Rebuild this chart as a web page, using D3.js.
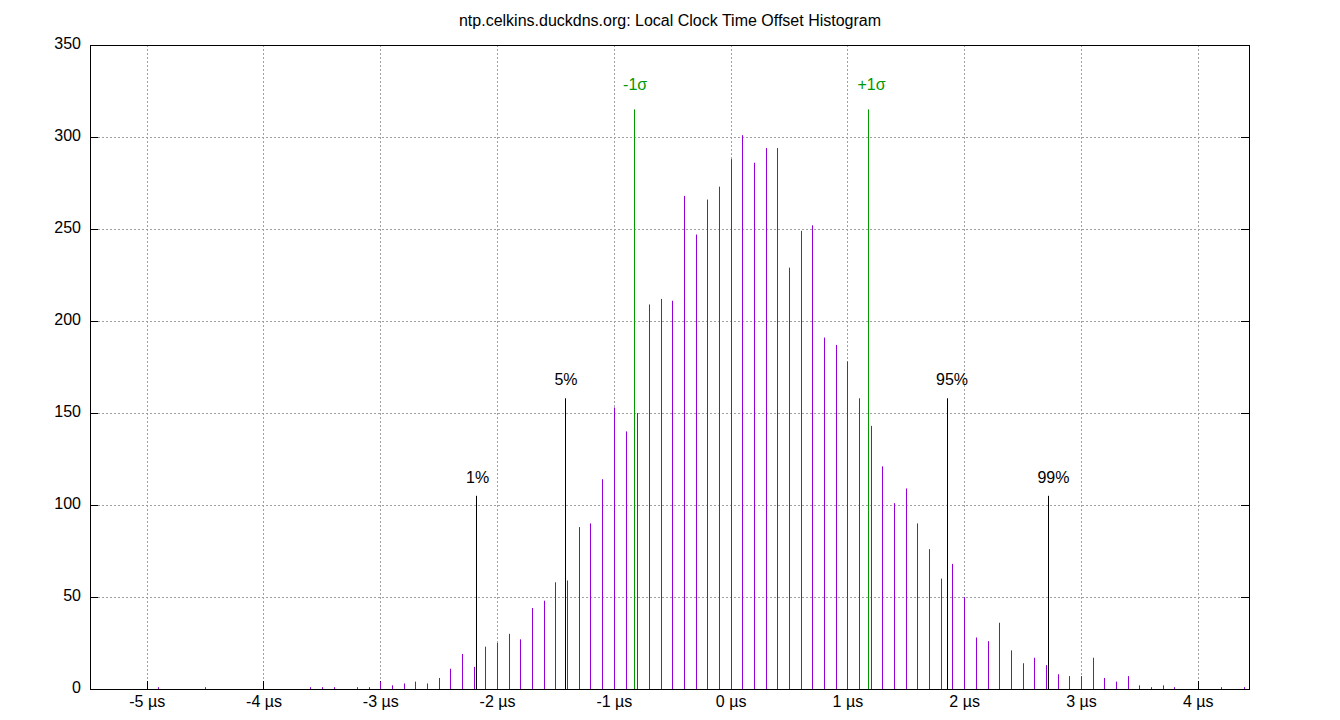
<!DOCTYPE html>
<html>
<head>
<meta charset="utf-8">
<script src="https://cdn.jsdelivr.net/npm/d3@7"></script>
<style>
  body { margin: 0; background: #fff; }
  text { font-family: "Liberation Sans", Arial, sans-serif; font-size: 16px; fill: #000; }
</style>
</head>
<body>
<div id="chart-area"></div>
<script>
// histogram bins (offset in µs) and counts
var binOffsets = [-4.9, -4.5, -3.6, -3.5, -3.4, -3.2, -3.1, -3.0, -2.9, -2.8, -2.7, -2.6, -2.5, -2.4, -2.3, -2.2,
  -2.1, -2.0, -1.9, -1.8, -1.7, -1.6, -1.5, -1.4, -1.3, -1.2, -1.1, -1.0, -0.9, -0.8, -0.7, -0.6, -0.5, -0.4,
  -0.3, -0.2, -0.1, 0.0, 0.1, 0.2, 0.3, 0.4, 0.5, 0.6, 0.7, 0.8, 0.9, 1.0, 1.1, 1.2, 1.3, 1.4, 1.5, 1.6, 1.7,
  1.8, 1.9, 2.0, 2.1, 2.2, 2.3, 2.4, 2.5, 2.6, 2.7, 2.8, 2.9, 3.0, 3.1, 3.2, 3.3, 3.4, 3.5, 3.6, 3.7, 3.8, 4.2, 4.4];
var binCounts = [1, 1, 1, 1, 1, 1, 1, 4, 2, 3, 4, 3, 6, 11, 19, 12,
  23, 25, 30, 27, 44, 48, 58, 59, 88, 90, 114, 153, 140, 150, 209, 212, 211, 268,
  247, 266, 273, 288, 301, 286, 294, 294, 229, 249, 252, 191, 187, 178, 158, 143, 121, 101, 109, 90, 76,
  60, 68, 50, 28, 26, 36, 21, 14, 17, 13, 8, 7, 7, 17, 6, 4, 7, 2, 1, 2, 1, 1, 1];

// percentile markers
var pctLabels = ["1%", "5%", "95%", "99%"];
var pctOffsets = [-2.176, -1.419, 1.849, 2.717];
var pctHeights = [105, 158, 158, 105];

// standard deviation markers
var sigmaLabels = ["-1σ", "+1σ"];
var sigmaOffsets = [-0.831, 1.176];
var sigmaHeight = 315;

var xTicks = [-5, -4, -3, -2, -1, 0, 1, 2, 3, 4];
var yTicks = [0, 50, 100, 150, 200, 250, 300, 350];

var title = "ntp.celkins.duckdns.org: Local Clock Time Offset Histogram";

var width = 1340, height = 720;
var plotLeft = 90, plotRight = 1249, plotTop = 45, plotBottom = 689;

var svg = d3.select('#chart-area')
  .append('svg')
  .attr('width', width)
  .attr('height', height);

var x = d3.scaleLinear().domain([-5.49, 4.435]).range([plotLeft, plotRight]);
var y = d3.scaleLinear().domain([0, 350]).range([plotBottom, plotTop]);

var px = (v) => Math.floor(x(v)) + 0.5;
var py = (v) => Math.round(y(v)) + 0.5;

// grid
svg.append('g').selectAll('line').data(xTicks).enter()
  .append('line')
  .attr('x1', (d) => px(d)).attr('x2', (d) => px(d))
  .attr('y1', plotTop).attr('y2', plotBottom)
  .attr('stroke', '#a0a0a0').attr('stroke-dasharray', '2,2');

svg.append('g').selectAll('line').data(yTicks.slice(1, -1)).enter()
  .append('line')
  .attr('x1', plotLeft).attr('x2', plotRight)
  .attr('y1', (d) => py(d)).attr('y2', (d) => py(d))
  .attr('stroke', '#a0a0a0').attr('stroke-dasharray', '2,2');

// ticks
svg.append('g').selectAll('line').data(xTicks).enter()
  .append('line')
  .attr('x1', (d) => px(d)).attr('x2', (d) => px(d))
  .attr('y1', plotBottom).attr('y2', plotBottom - 8)
  .attr('stroke', '#000');

svg.append('g').selectAll('line').data(yTicks).enter()
  .append('line')
  .attr('x1', plotLeft).attr('x2', plotLeft + 8)
  .attr('y1', (d) => py(d)).attr('y2', (d) => py(d))
  .attr('stroke', '#000');

svg.append('g').selectAll('line').data(yTicks).enter()
  .append('line')
  .attr('x1', plotRight - 8).attr('x2', plotRight)
  .attr('y1', (d) => py(d)).attr('y2', (d) => py(d))
  .attr('stroke', '#000');

// histogram impulses
var bins = binOffsets.map((d, i) => ({off: d, count: binCounts[i]}));
svg.append('g').selectAll('line').data(bins).enter()
  .append('line')
  .attr('x1', (d) => px(d.off)).attr('x2', (d) => px(d.off))
  .attr('y1', y(0)).attr('y2', (d) => y(d.count))
  .attr('stroke', '#9400d3');

// percentile lines
svg.append('g').selectAll('line').data(pctOffsets).enter()
  .append('line')
  .attr('x1', (d) => px(d)).attr('x2', (d) => px(d))
  .attr('y1', y(0)).attr('y2', (d, i) => y(pctHeights[i]))
  .attr('stroke', '#000');

svg.append('g').selectAll('text').data(pctOffsets).enter()
  .append('text')
  .attr('x', (d) => x(d) - 11)
  .attr('y', (d, i) => y(pctHeights[i] + 10))
  .attr('dy', '0.35em')
  .text((d, i) => pctLabels[i]);

// sigma lines
svg.append('g').selectAll('line').data(sigmaOffsets).enter()
  .append('line')
  .attr('x1', (d) => px(d)).attr('x2', (d) => px(d))
  .attr('y1', y(0)).attr('y2', y(sigmaHeight))
  .attr('stroke', '#009900');

svg.append('g').selectAll('text').data(sigmaOffsets).enter()
  .append('text')
  .attr('x', (d) => x(d) - 11)
  .attr('y', y(sigmaHeight + 13.5))
  .attr('dy', '0.35em')
  .style('fill', '#009900')
  .text((d, i) => sigmaLabels[i]);

// border
svg.append('rect')
  .attr('x', plotLeft + 0.5).attr('y', plotTop + 0.5)
  .attr('width', plotRight - plotLeft).attr('height', plotBottom - plotTop)
  .attr('fill', 'none').attr('stroke', '#000');

// tick labels
svg.append('g').selectAll('text').data(xTicks).enter()
  .append('text')
  .attr('x', (d) => x(d))
  .attr('y', 707)
  .attr('text-anchor', 'middle')
  .text((d) => d + " µs");

svg.append('g').selectAll('text').data(yTicks).enter()
  .append('text')
  .attr('x', 81)
  .attr('y', (d) => y(d) - 2)
  .attr('dy', '0.35em')
  .attr('text-anchor', 'end')
  .text((d) => d);

svg.append('text')
  .attr('x', 670)
  .attr('y', 26)
  .attr('text-anchor', 'middle')
  .text(title);
</script>
</body>
</html>
